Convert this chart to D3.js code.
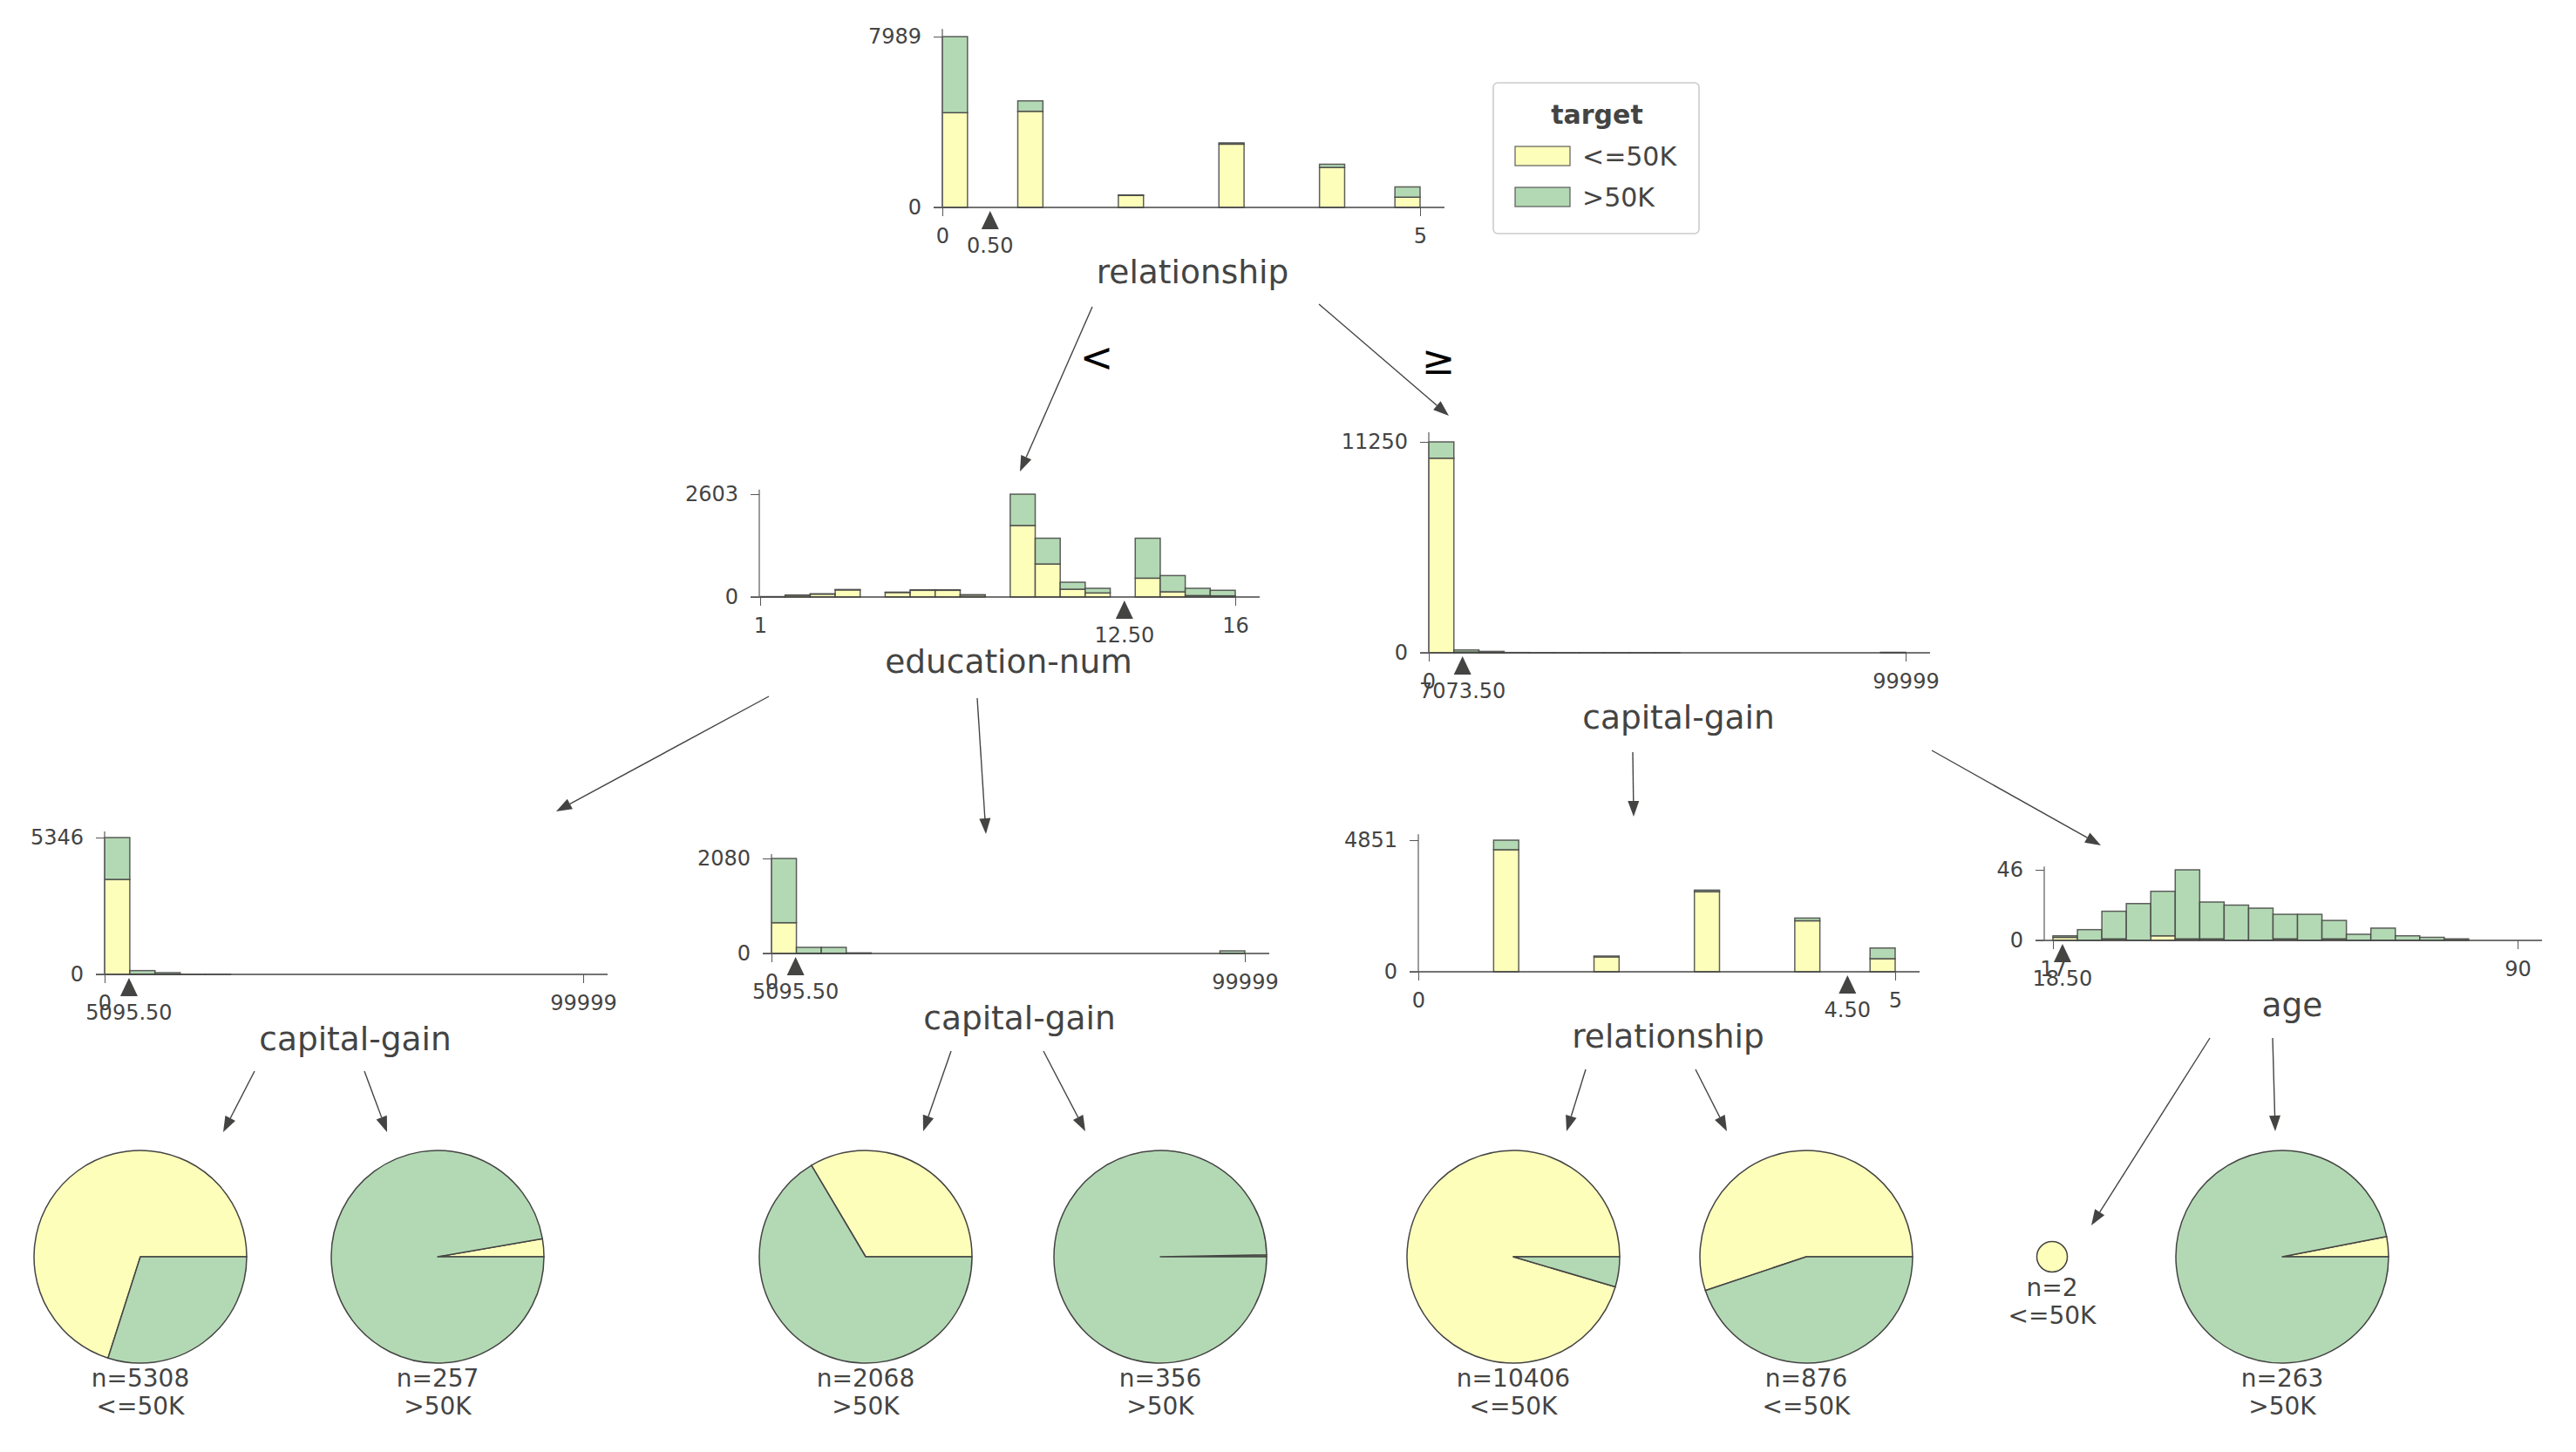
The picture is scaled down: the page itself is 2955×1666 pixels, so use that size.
<!DOCTYPE html>
<html><head><meta charset="utf-8">
<script src="https://cdn.jsdelivr.net/npm/d3@7"></script>
<style>
body{margin:0;background:#fff}
svg{display:block}
text{font-family:"DejaVu Sans",sans-serif;fill:#444443}
</style>
</head><body>
<svg id="c" width="2955" height="1666"></svg>
<script>
// ---------------- DATA ----------------
const classes = ["<=50K", ">50K"];
const nBins = 19;

// root: relationship
const n0Feature = "relationship";
const n0Domain = [0, 5];
const n0Split = 0.5;
const n0Low  = [4431,0,0,4496,0,0,0,560,0,0,0,2960,0,0,0,1870,0,0,480];
const n0High = [3558,0,0,489,0,0,0,25,0,0,0,60,0,0,0,150,0,0,480];

// left: education-num
const n1Feature = "education-num";
const n1Domain = [1, 16];
const n1Split = 12.5;
const n1Low  = [10,45,75,180,0,115,170,170,50,0,1811,836,198,103,0,477,132,37,30];
const n1High = [0,3,5,10,0,8,12,12,8,0,792,652,176,117,0,1011,411,183,140];

// right: capital-gain
const n2Feature = "capital-gain";
const n2Domain = [0, 99999];
const n2Split = 7073.5;
const n2Low  = [10380,40,5,0,0,0,0,0,0,0,0,0,0,0,0,0,0,0,0];
const n2High = [870,110,70,15,8,4,3,2,1,1,0,0,0,0,0,0,0,0,25];

// left-left: capital-gain
const n3Feature = "capital-gain";
const n3Domain = [0, 99999];
const n3Split = 5095.5;
const n3Low  = [3712,10,5,0,0,0,0,0,0,0,0,0,0,0,0,0,0,0,0];
const n3High = [1634,138,63,3,2,0,0,0,0,0,0,0,0,0,0,0,0,0,0];

// left-right: capital-gain
const n4Feature = "capital-gain";
const n4Domain = [0, 99999];
const n4Split = 5095.5;
const n4Low  = [674,5,5,0,0,0,0,0,0,0,0,0,0,0,0,0,0,0,0];
const n4High = [1406,129,129,13,0,0,0,0,0,0,0,0,0,0,0,0,0,0,57];

// right-left: relationship
const n5Feature = "relationship";
const n5Domain = [0, 5];
const n5Split = 4.5;
const n5Low  = [0,0,0,4500,0,0,0,550,0,0,0,2955,0,0,0,1880,0,0,483];
const n5High = [0,0,0,351,0,0,0,30,0,0,0,55,0,0,0,100,0,0,393];

// right-right: age
const n6Feature = "age";
const n6Domain = [17, 90];
const n6Split = 18.5;
const n6Low  = [2,0,1,0,3,1,1,0,0,1,0,1,0,0,0,0,0,0,0];
const n6High = [1,7,18,24,29,45,24,23,21,16,17,12,4,8,3,2,1,0,0];

// leaves
const leafLow  = [3720, 7, 693, 1, 9931, 483, 2, 8];
const leafHigh = [1588, 250, 1375, 355, 475, 393, 0, 255];

// ---------------- LAYOUT / STYLE ----------------
const ink = "#444443";
const classColors = ["#fefebb", "#b3d9b4"];

const nodes = [
  {feature:n0Feature, domain:n0Domain, split:n0Split, low:n0Low, high:n0High, L:{spine:1081,x0:1081,x1:1629,y0:238,yTop:42}},
  {feature:n1Feature, domain:n1Domain, split:n1Split, low:n1Low, high:n1High, L:{spine:871,x0:872,x1:1417,y0:685,yTop:567}},
  {feature:n2Feature, domain:n2Domain, split:n2Split, low:n2Low, high:n2High, L:{spine:1639,x0:1639,x1:2186,y0:749,yTop:507}},
  {feature:n3Feature, domain:n3Domain, split:n3Split, low:n3Low, high:n3High, L:{spine:120,x0:120,x1:669,y0:1118,yTop:961}},
  {feature:n4Feature, domain:n4Domain, split:n4Split, low:n4Low, high:n4High, L:{spine:885,x0:885,x1:1428,y0:1094,yTop:985}},
  {feature:n5Feature, domain:n5Domain, split:n5Split, low:n5Low, high:n5High, L:{spine:1627,x0:1627,x1:2174,y0:1115,yTop:964}},
  {feature:n6Feature, domain:n6Domain, split:n6Split, low:n6Low, high:n6High, L:{spine:2345,x0:2355,x1:2888,y0:1079,yTop:998}}
];

const leafLayoutX = [161, 502, 993, 1331, 1736, 2072, 2354, 2618];
const leafLayoutY = 1442;

const edges = [
  [1253,352,1170,541],[1513,349,1662,477],
  [882,799,638,931],[1121,801,1131,957],
  [1873,863,1874,937],[2216,861,2410,970],
  [292,1229,256,1299],[418,1229,444,1299],
  [1091,1206,1059,1298],[1197,1206,1245,1298],
  [1819,1227,1797,1298],[1945,1227,1981,1298],
  [2535,1191,2399,1406],[2607,1191,2610,1298]
];

const svg = d3.select("#c");

// ---------------- EDGES ----------------
const eg = svg.append("g");
edges.forEach(([x1,y1,x2,y2]) => {
  const a = Math.atan2(y2-y1, x2-x1);
  const len = 18, hw = 6.5;
  const bx = x2 - len*Math.cos(a), by = y2 - len*Math.sin(a);
  eg.append("line").attr("x1",x1).attr("y1",y1).attr("x2",bx).attr("y2",by)
    .attr("stroke",ink).attr("stroke-width",1.4);
  const px = -Math.sin(a), py = Math.cos(a);
  eg.append("path").attr("d",`M${x2},${y2}L${bx+px*hw},${by+py*hw}L${bx-px*hw},${by-py*hw}Z`)
    .attr("fill",ink);
});

svg.append("text").attr("x",1258).attr("y",410).attr("text-anchor","middle").attr("dominant-baseline","central")
  .style("fill","#000").attr("font-size",46).text("<");
svg.append("text").attr("x",1650).attr("y",413).attr("text-anchor","middle").attr("dominant-baseline","central")
  .style("fill","#000").attr("font-size",46).text("≥");

// ---------------- DECISION NODES ----------------
nodes.forEach(node => {
  const L = node.L;
  const g = svg.append("g");
  const x = d3.scaleLinear().domain(node.domain).range([L.x0, L.x1]);
  const totals = node.low.map((v,i) => v + node.high[i]);
  const maxT = d3.max(totals);
  const y = d3.scaleLinear().domain([0, maxT]).range([L.y0, L.yTop]);
  const step = (node.domain[1]-node.domain[0]) / nBins;
  const bins = d3.range(nBins).map(i => ({
    a: node.domain[0] + i*step, b: node.domain[0] + (i+1)*step,
    low: node.low[i], high: node.high[i]
  }));

  g.selectAll("rect.lo").data(bins.filter(d => d.low > 0)).join("rect")
    .attr("x", d => x(d.a)).attr("width", d => x(d.b) - x(d.a))
    .attr("y", d => y(d.low)).attr("height", d => y(0) - y(d.low))
    .attr("fill", classColors[0]).attr("stroke", ink).attr("stroke-width", 1.5).attr("stroke-opacity",0.85);
  g.selectAll("rect.hi").data(bins.filter(d => d.high > 0)).join("rect")
    .attr("x", d => x(d.a)).attr("width", d => x(d.b) - x(d.a))
    .attr("y", d => y(d.low + d.high)).attr("height", d => y(d.low) - y(d.low + d.high))
    .attr("fill", classColors[1]).attr("stroke", ink).attr("stroke-width", 1.5).attr("stroke-opacity",0.85);

  // x axis baseline
  g.append("line").attr("x1", L.spine - 10).attr("x2", L.x1 + 28)
    .attr("y1", L.y0).attr("y2", L.y0).attr("stroke", ink).attr("stroke-width", 1.6);
  // y spine
  g.append("line").attr("x1", L.spine).attr("x2", L.spine)
    .attr("y1", L.y0).attr("y2", y(maxT * 1.045)).attr("stroke", "#666").attr("stroke-width", 1.3);

  const yAxis = d3.axisLeft(y).tickValues([0, maxT]).tickSize(10).tickPadding(14).tickFormat(d3.format("d"));
  const ya = g.append("g").attr("transform", `translate(${L.spine},0)`).call(yAxis);
  ya.select(".domain").remove();
  ya.attr("font-size", 24).attr("font-family", "DejaVu Sans").attr("color", "#555");

  const xAxis = d3.axisBottom(x).tickValues(node.domain).tickSize(10).tickPadding(14).tickFormat(d3.format("d"));
  const xa = g.append("g").attr("transform", `translate(0,${L.y0})`).call(xAxis);
  xa.select(".domain").remove();
  xa.attr("font-size", 24).attr("font-family", "DejaVu Sans").attr("color", "#555");

  // split marker
  const sx = x(node.split);
  g.append("path").attr("d", `M${sx},${L.y0+4}L${sx+10},${L.y0+25}L${sx-10},${L.y0+25}Z`).attr("fill", ink);
  g.append("text").attr("x", sx).attr("y", L.y0 + 52).attr("text-anchor", "middle")
    .attr("font-size", 24).text(d3.format(".2f")(node.split));

  // feature label
  g.append("text").attr("x", (L.spine - 10 + L.x1 + 28) / 2 + 4).attr("y", L.y0 + 87)
    .attr("text-anchor", "middle").attr("font-size", 37.5).text(node.feature);
});

// ---------------- LEAVES ----------------
const rScale = d3.scaleSqrt().domain([0, 97]).range([0, 122]).clamp(true);
const pie = d3.pie().sort(null).startAngle(Math.PI/2).endAngle(Math.PI/2 - 2*Math.PI);
leafLow.forEach((lo, i) => {
  const hi = leafHigh[i];
  const n = lo + hi;
  const r = rScale(n);
  const cx = leafLayoutX[i], cy = leafLayoutY;
  const g = svg.append("g").attr("transform", `translate(${cx},${cy})`);
  const arc = d3.arc().innerRadius(0).outerRadius(r);
  const arcs = pie([lo, hi]);
  g.selectAll("path").data(arcs.filter(d => d.value > 0)).join("path")
    .attr("d", arc).attr("fill", d => classColors[d.index])
    .attr("stroke", ink).attr("stroke-width", 1.5).attr("stroke-linejoin","round");
  const pred = lo >= hi ? classes[0] : classes[1];
  g.append("text").attr("x", 0).attr("y", r + 27).attr("text-anchor", "middle").attr("font-size", 28).text("n=" + n);
  g.append("text").attr("x", 0).attr("y", r + 59).attr("text-anchor", "middle").attr("font-size", 28).text(pred);
});

// ---------------- LEGEND ----------------
const lg = svg.append("g");
lg.append("rect").attr("x", 1713).attr("y", 95).attr("width", 236).attr("height", 173).attr("rx", 5)
  .attr("fill", "#fff").attr("stroke", "#cccccc").attr("stroke-width", 1.6);
lg.append("text").attr("x", 1832).attr("y", 142).attr("text-anchor", "middle")
  .attr("font-size", 30).attr("font-weight", "bold").text("target");
classes.forEach((c, i) => {
  lg.append("rect").attr("x", 1738).attr("y", 168 + i*47).attr("width", 63).attr("height", 22)
    .attr("fill", classColors[i]).attr("stroke", ink).attr("stroke-width", 1.3).attr("stroke-opacity",0.8);
  lg.append("text").attr("x", 1815).attr("y", 190 + i*47).attr("font-size", 30).text(c);
});
</script>
</body></html>
